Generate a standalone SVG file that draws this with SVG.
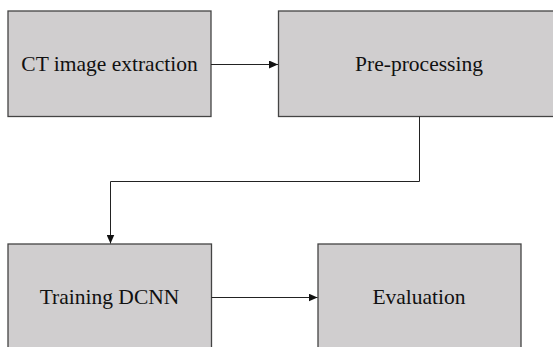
<svg xmlns="http://www.w3.org/2000/svg" width="553" height="347" viewBox="0 0 553 347">
<style>
.box{fill:#d0cecf;stroke:#444;stroke-width:1.3}
.lbl{font-family:"Liberation Serif","Times New Roman",serif;font-size:21.5px;fill:#111;text-anchor:middle}
.conn{fill:none;stroke:#222;stroke-width:1}
</style>
<defs>
<marker id="ah" markerWidth="10" markerHeight="8" refX="9" refY="4" orient="auto" markerUnits="userSpaceOnUse">
<path d="M0,0 L9,4 L0,8 Z" fill="#111"/>
</marker>
</defs>
<rect width="553" height="347" fill="#fff"/>
<g id="node-ct">
<rect class="box" x="8" y="11" width="203" height="105.5"/>
<text class="lbl" x="109.5" y="71">CT image extraction</text>
</g>
<g id="node-pre">
<rect class="box" x="278.5" y="11" width="290" height="105.5"/>
<text class="lbl" x="419" y="71">Pre-processing</text>
</g>
<g id="node-train">
<rect class="box" x="8" y="244" width="203.5" height="120"/>
<text class="lbl" x="109.5" y="304">Training DCNN</text>
</g>
<g id="node-eval">
<rect class="box" x="318" y="244" width="203" height="120"/>
<text class="lbl" x="419" y="304">Evaluation</text>
</g>
<g id="connectors">
<line class="conn" x1="211" y1="64.5" x2="278" y2="64.5" marker-end="url(#ah)"/>
<polyline class="conn" points="419.5,116.5 419.5,181.5 110.5,181.5 110.5,243.5" marker-end="url(#ah)"/>
<line class="conn" x1="211.5" y1="297.5" x2="317.5" y2="297.5" marker-end="url(#ah)"/>
</g>
</svg>
